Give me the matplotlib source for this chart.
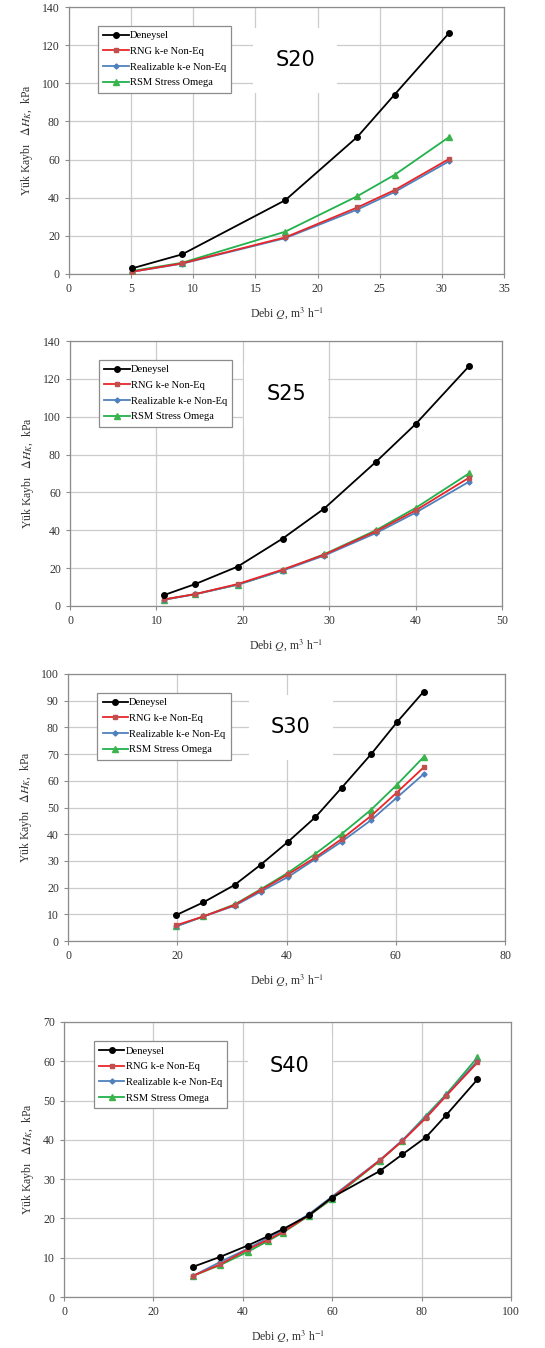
import numpy as np
import matplotlib.pyplot as plt

plt.rcParams["font.family"] = ["Liberation Serif", "DejaVu Serif"]
plt.rcParams["mathtext.fontset"] = "stix"

labels = ["Deneysel", "RNG k-e Non-Eq", "Realizable k-e Non-Eq", "RSM Stress Omega"]

# S20
q20 = [5.1, 9.1, 17.4, 23.2, 26.2, 30.6]
den20 = [3.0, 10.3, 38.7, 71.9, 94.1, 126.5]
rng20 = [1.2, 5.6, 19.2, 34.9, 44.0, 60.4]
rea20 = [1.2, 5.4, 18.8, 33.8, 43.0, 59.2]
rsm20 = [1.6, 5.9, 22.2, 40.8, 52.0, 71.9]

# S25
q25 = [10.9, 14.5, 19.4, 24.6, 29.4, 35.4, 40.0, 46.2]
den25 = [5.8, 11.6, 20.8, 35.6, 51.4, 76.1, 96.1, 126.8]
rng25 = [3.5, 6.3, 11.6, 19.2, 27.1, 39.4, 50.5, 67.8]
rea25 = [3.3, 6.2, 11.3, 18.7, 26.6, 38.5, 49.3, 65.7]
rsm25 = [3.4, 6.3, 11.2, 18.8, 27.3, 40.0, 51.8, 70.1]

# S30
q30 = [19.8, 24.8, 30.5, 35.3, 40.3, 45.3, 50.1, 55.5, 60.2, 65.1]
den30 = [9.7, 14.5, 21.0, 28.6, 37.2, 46.4, 57.4, 70.0, 81.9, 93.4]
rng30 = [5.9, 9.2, 13.5, 19.1, 25.0, 31.3, 38.2, 46.9, 55.6, 65.0]
rea30 = [5.5, 9.2, 13.2, 18.5, 24.0, 30.7, 37.2, 45.3, 53.7, 62.5]
rsm30 = [5.5, 9.2, 13.7, 19.4, 25.6, 32.7, 40.1, 49.2, 58.5, 68.9]

# S40
q40 = [28.9, 34.9, 41.1, 45.7, 49.0, 54.8, 59.9, 70.7, 75.7, 81.0, 85.5, 92.5]
den40 = [7.7, 10.2, 13.1, 15.5, 17.3, 20.8, 25.3, 32.1, 36.3, 40.7, 46.3, 55.4]
rng40 = [5.4, 8.3, 12.1, 14.6, 16.6, 20.8, 25.2, 34.8, 39.7, 45.6, 51.2, 59.7]
rea40 = [5.4, 8.9, 12.3, 15.1, 17.0, 21.1, 25.5, 34.9, 39.9, 45.9, 51.4, 60.1]
rsm40 = [5.4, 8.1, 11.5, 14.3, 16.4, 20.7, 24.9, 34.7, 39.8, 46.2, 51.6, 61.0]

panels = [
    ("S20", q20, [den20, rng20, rea20, rsm20], (0, 35, 5), (0, 140, 20), (69, 504, 7, 274), (0.52, 0.80)),
    ("S25", q25, [den25, rng25, rea25, rsm25], (0, 50, 10), (0, 140, 20), (70, 502, 341, 606), (0.50, 0.80)),
    ("S30", q30, [den30, rng30, rea30, rsm30], (0, 80, 20), (0, 100, 10), (68, 505, 674, 941), (0.51, 0.80)),
    ("S40", q40, [den40, rng40, rea40, rsm40], (0, 100, 20), (0, 70, 10), (64, 511, 1022, 1297), (0.505, 0.84)),
]

styles = [
    dict(color="black", marker="o", ms=4, mfc="black", mec="black"),
    dict(color="#e8262a", marker="s", ms=3.5, mfc="#c0504d", mec="#c0504d"),
    dict(color="#4f81bd", marker="D", ms=2.6, mfc="#4f81bd", mec="#4f81bd"),
    dict(color="#22b14c", marker="^", ms=4, mfc="#3cb44b", mec="#3cb44b"),
]

W, H = 545, 1348
fig = plt.figure(figsize=(W / 100, H / 100), dpi=100)

for name, q, series, (x0, x1, dx), (y0, y1, dy), (l, r, t, b), (tx, ty) in panels:
    ax = fig.add_axes([l / W, 1 - b / H, (r - l) / W, (b - t) / H])
    # draw in reverse so black ends on top
    for ys, lab, st in list(zip(series, labels, styles))[::-1]:
        ax.plot(q, ys, lw=1.3, label=lab, zorder=3, **st)
    ax.set_xlim(x0, x1)
    ax.set_ylim(y0, y1)
    ax.set_xticks(np.arange(x0, x1 + dx / 2, dx))
    ax.set_yticks(np.arange(y0, y1 + dy / 2, dy))
    ax.grid(True, color="#cccccc", lw=0.9)
    ax.set_axisbelow(True)
    for s in ax.spines.values():
        s.set_color("#8c8c8c")
        s.set_linewidth(0.9)
    ax.tick_params(labelsize=8.5, length=3, color="#8c8c8c", colors="#333333")
    ax.set_xlabel(r"Debi $Q$, m$^3$ h$^{-1}$", fontsize=8.5, color="#333333", labelpad=7)
    ax.set_ylabel(r"Yük Kaybı   $\Delta H_K$,  kPa", fontsize=8.5, color="#333333", labelpad=5)
    h, lb = ax.get_legend_handles_labels()
    leg = ax.legend(h[::-1], lb[::-1], loc="upper left", bbox_to_anchor=(0.055, 0.95),
                    fontsize=7.6, frameon=True, fancybox=False, handlelength=2.4,
                    handletextpad=0.1, borderpad=0.5, labelspacing=0.6,
                    edgecolor="#8c8c8c", framealpha=1)
    leg.get_frame().set_linewidth(0.9)
    ax.text(tx, ty, name, transform=ax.transAxes, ha="center", va="center",
            fontsize=15, family="DejaVu Sans", zorder=5,
            bbox=dict(facecolor="white", edgecolor="none", pad=16))

fig.savefig("out.png", dpi=100)
